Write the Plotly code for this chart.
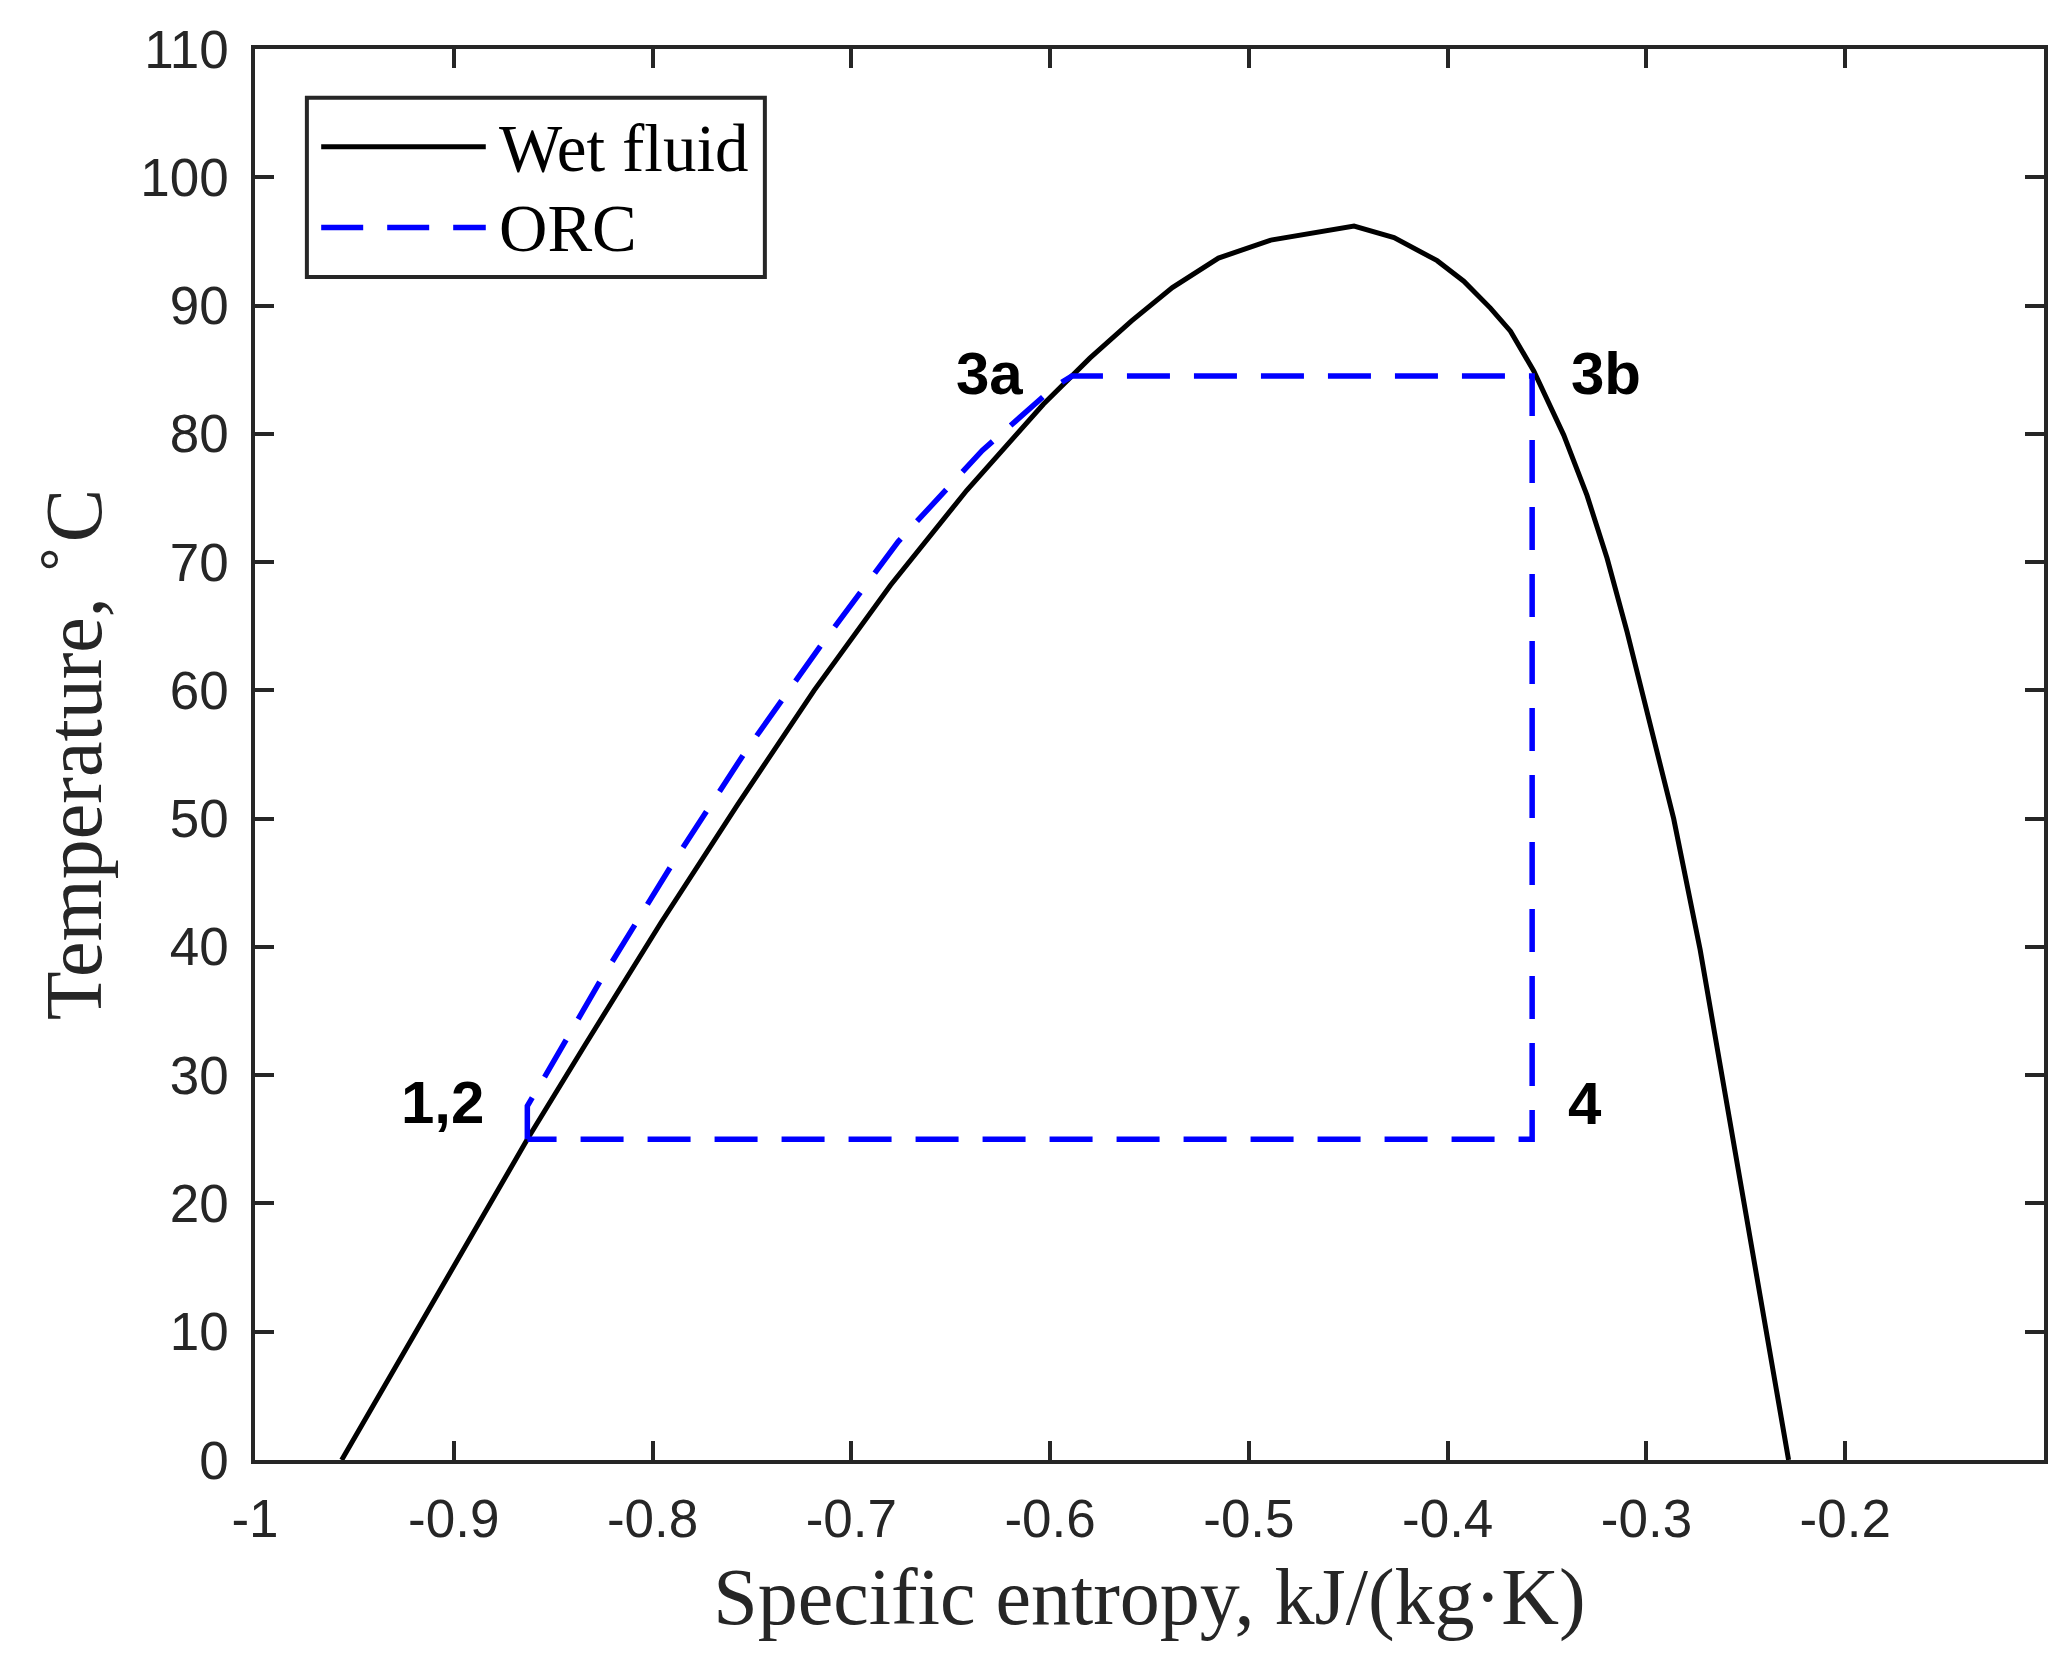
"""Temperature-entropy diagram of a wet working fluid with an ORC cycle."""
import plotly.graph_objects as go

# Saturation dome of the wet fluid (s in kJ/(kg K), T in deg C)
sat_s = [-0.9564, -0.863, -0.8342, -0.7957, -0.7572, -0.7187, -0.6803,
         -0.6419, -0.6034, -0.580, -0.559, -0.5385, -0.5153, -0.4957, -0.489,
         -0.4471, -0.427, -0.4053, -0.3919, -0.3785, -0.3684, -0.3567,
         -0.3416, -0.3299, -0.3198, -0.3098, -0.2989, -0.2863, -0.273,
         -0.2612, -0.2495, -0.2390, -0.2285]
sat_t = [0, 25.0, 32.3, 41.9, 51.1, 60.0, 68.2,
         75.6, 82.3, 85.9, 88.8, 91.4, 93.7, 94.8, 95.1,
         96.2, 95.3, 93.5, 91.9, 89.8, 88.0, 84.9,
         79.9, 75.2, 70.3, 64.6, 58.0, 50.0, 39.8,
         29.2, 18.8, 9.2, 0]

# ORC cycle 1,2 -> 3a -> 3b -> 4 -> 1,2
orc_s = [-0.863, -0.863, -0.8534, -0.8265, -0.7899, -0.7534, -0.7149,
         -0.6764, -0.6341, -0.5976, -0.589, -0.3575, -0.3575, -0.863]
orc_t = [25, 27.6, 30.1, 37.3, 46.5, 55.2, 63.6,
         71.6, 78.7, 83.7, 84.5, 84.5, 25, 25]

# State point labels
pt_names = ['1,2', '3a', '3b', '4']
pt_s = [-0.9058, -0.6306, -0.3204, -0.3309]
pt_t = [27.9, 84.7, 84.7, 27.8]

legend_names = ['Wet fluid', 'ORC']

axis_col = '#262626'
blue = '#0000ff'

fig = go.Figure()
fig.add_trace(go.Scatter(x=sat_s, y=sat_t, mode='lines', name=legend_names[0],
                         line=dict(color='black', width=5)))
fig.add_trace(go.Scatter(x=orc_s, y=orc_t, mode='lines', name=legend_names[1],
                         line=dict(color=blue, width=5.5, dash='43px,24px')))

for name, s, t in zip(pt_names, pt_s, pt_t):
    fig.add_annotation(x=s, y=t, text=f'<b>{name}</b>', showarrow=False,
                       font=dict(family='Liberation Sans', size=60,
                                 color='black'),
                       xanchor='center', yanchor='middle')

# Legend drawn by hand so the sample lines are as long as in the original
fig.add_shape(type='rect', xref='paper', yref='paper',
              x0=0.029, x1=0.285, y0=0.8385, y1=0.9655,
              line=dict(color=axis_col, width=4), fillcolor='white')
fig.add_shape(type='line', xref='paper', yref='paper',
              x0=0.037, x1=0.129, y0=0.9307, y1=0.9307,
              line=dict(color='black', width=5))
fig.add_shape(type='line', xref='paper', yref='paper',
              x0=0.037, x1=0.129, y0=0.8735, y1=0.8735,
              line=dict(color=blue, width=5.5, dash='42px,24px'))
for name, yy in zip(legend_names, [0.930, 0.873]):
    fig.add_annotation(xref='paper', yref='paper', x=0.1355, y=yy,
                       text=name, showarrow=False, xanchor='left',
                       yanchor='middle',
                       font=dict(family='Liberation Serif', size=67,
                                 color='black'))

fig.update_layout(
    width=2069, height=1659,
    margin=dict(l=247, r=33, t=41, b=207),
    paper_bgcolor='white', plot_bgcolor='white',
    showlegend=False,
    font=dict(family='Liberation Sans', color=axis_col),
)
fig.update_xaxes(range=[-1, -0.1], tickvals=[-1, -0.9, -0.8, -0.7, -0.6, -0.5,
                                             -0.4, -0.3, -0.2],
                 ticktext=['-1', '-0.9', '-0.8', '-0.7', '-0.6', '-0.5',
                           '-0.4', '-0.3', '-0.2'],
                 ticks='inside', ticklen=19, tickwidth=3.5, tickcolor=axis_col,
                 showline=True, linecolor=axis_col, linewidth=3.5,
                 mirror='ticks', showgrid=False, zeroline=False,
                 ticklabelstandoff=10,
                 tickfont=dict(size=53, color=axis_col),
                 title=dict(text='Specific entropy, kJ/(kg·K)',
                            font=dict(family='Liberation Serif', size=80,
                                      color=axis_col),
                            standoff=22))
fig.update_yaxes(range=[0, 110], dtick=10,
                 ticks='inside', ticklen=19, tickwidth=3.5, tickcolor=axis_col,
                 showline=True, linecolor=axis_col, linewidth=3.5,
                 mirror='ticks', showgrid=False, zeroline=False,
                 ticklabelstandoff=12,
                 tickfont=dict(size=53, color=axis_col),
                 title=dict(text='Temperature, <sup>∘</sup>C',
                            font=dict(family='Liberation Serif', size=80,
                                      color=axis_col),
                            standoff=13))

fig.write_html('out.html')
